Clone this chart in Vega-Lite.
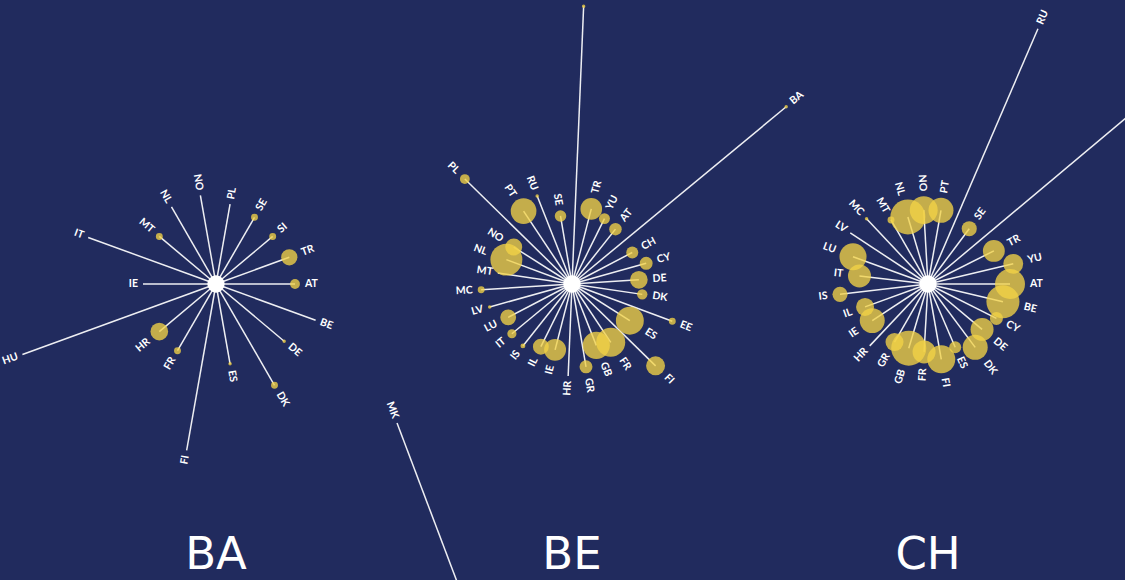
{
  "$schema": "https://vega.github.io/schema/vega-lite/v6.json",
  "background": "#212b5e",
  "padding": {"left": 1, "top": -10, "right": 0, "bottom": 0},
  "config": {"view": {"stroke": null}},
  "datasets": {
    "spokes": [
      {"panel": "BA", "country": "AT", "angle": 0, "len": 79, "pts": 8},
      {"panel": "BA", "country": "BE", "angle": 20, "len": 106, "pts": 0},
      {"panel": "BA", "country": "DE", "angle": 40, "len": 89, "pts": 1},
      {"panel": "BA", "country": "DK", "angle": 60, "len": 117, "pts": 4},
      {"panel": "BA", "country": "ES", "angle": 80, "len": 81, "pts": 1},
      {"panel": "BA", "country": "FI", "angle": 100, "len": 169, "pts": 0},
      {"panel": "BA", "country": "FR", "angle": 120, "len": 77, "pts": 4},
      {"panel": "BA", "country": "HR", "angle": 140, "len": 74, "pts": 26},
      {"panel": "BA", "country": "HU", "angle": 160, "len": 206, "pts": 0},
      {"panel": "BA", "country": "IE", "angle": 180, "len": 73, "pts": 0},
      {"panel": "BA", "country": "IT", "angle": 200, "len": 136, "pts": 0},
      {"panel": "BA", "country": "MT", "angle": 220, "len": 74, "pts": 4},
      {"panel": "BA", "country": "NL", "angle": 240, "len": 89, "pts": 0},
      {"panel": "BA", "country": "NO", "angle": 260, "len": 90, "pts": 0},
      {"panel": "BA", "country": "PL", "angle": 280, "len": 81, "pts": 0},
      {"panel": "BA", "country": "SE", "angle": 300, "len": 77, "pts": 4},
      {"panel": "BA", "country": "SI", "angle": 320, "len": 74, "pts": 4},
      {"panel": "BA", "country": "TR", "angle": 340, "len": 78, "pts": 22},
      {"panel": "BE", "country": "AT", "angle": -51.6, "len": 70, "pts": 13},
      {"panel": "BE", "country": "BA", "angle": -39.6, "len": 278, "pts": 1},
      {"panel": "BE", "country": "CH", "angle": -27.6, "len": 68, "pts": 12},
      {"panel": "BE", "country": "CY", "angle": -15.6, "len": 77, "pts": 14},
      {"panel": "BE", "country": "DE", "angle": -3.6, "len": 67, "pts": 26},
      {"panel": "BE", "country": "DK", "angle": 8.4, "len": 71, "pts": 9},
      {"panel": "BE", "country": "EE", "angle": 20.4, "len": 107, "pts": 4},
      {"panel": "BE", "country": "ES", "angle": 32.4, "len": 68.5, "pts": 65},
      {"panel": "BE", "country": "FI", "angle": 44.4, "len": 117, "pts": 30},
      {"panel": "BE", "country": "FR", "angle": 56.4, "len": 70, "pts": 70},
      {"panel": "BE", "country": "GB", "angle": 68.4, "len": 66, "pts": 61},
      {"panel": "BE", "country": "GR", "angle": 80.4, "len": 84, "pts": 14},
      {"panel": "BE", "country": "HR", "angle": 92.4, "len": 92, "pts": 0},
      {"panel": "BE", "country": "IE", "angle": 104.4, "len": 68, "pts": 40},
      {"panel": "BE", "country": "IL", "angle": 116.4, "len": 70, "pts": 21},
      {"panel": "BE", "country": "IS", "angle": 128.4, "len": 79, "pts": 2},
      {"panel": "BE", "country": "IT", "angle": 140.4, "len": 78, "pts": 7},
      {"panel": "BE", "country": "LU", "angle": 152.4, "len": 72, "pts": 21},
      {"panel": "BE", "country": "LV", "angle": 164.4, "len": 85.5, "pts": 1},
      {"panel": "BE", "country": "MC", "angle": 176.4, "len": 91, "pts": 4},
      {"panel": "BE", "country": "MT", "angle": 188.4, "len": 75, "pts": 0},
      {"panel": "BE", "country": "NL", "angle": 200.4, "len": 70, "pts": 85},
      {"panel": "BE", "country": "NO", "angle": 212.4, "len": 69, "pts": 24},
      {"panel": "BE", "country": "PL", "angle": 224.4, "len": 150, "pts": 8},
      {"panel": "BE", "country": "PT", "angle": 236.4, "len": 87.5, "pts": 55},
      {"panel": "BE", "country": "RU", "angle": 248.4, "len": 94.6, "pts": 1},
      {"panel": "BE", "country": "SE", "angle": 260.4, "len": 69, "pts": 11},
      {"panel": "BE", "country": "SI", "angle": 272.4, "len": 278, "pts": 1},
      {"panel": "BE", "country": "TR", "angle": 284.4, "len": 77.5, "pts": 39},
      {"panel": "BE", "country": "YU", "angle": 296.4, "len": 73, "pts": 10},
      {"panel": "CH", "country": "AT", "angle": 0, "len": 82, "pts": 75},
      {"panel": "CH", "country": "BE", "angle": 13.3, "len": 77, "pts": 91},
      {"panel": "CH", "country": "CY", "angle": 26.7, "len": 76.6, "pts": 14},
      {"panel": "CH", "country": "DE", "angle": 40, "len": 70.6, "pts": 44},
      {"panel": "CH", "country": "DK", "angle": 53.3, "len": 79, "pts": 52},
      {"panel": "CH", "country": "ES", "angle": 66.7, "len": 68.8, "pts": 12},
      {"panel": "CH", "country": "FI", "angle": 80, "len": 76.5, "pts": 65},
      {"panel": "CH", "country": "FR", "angle": 93.3, "len": 68, "pts": 44},
      {"panel": "CH", "country": "GB", "angle": 106.7, "len": 67, "pts": 102},
      {"panel": "CH", "country": "GR", "angle": 120, "len": 67, "pts": 27},
      {"panel": "CH", "country": "HR", "angle": 133.3, "len": 85, "pts": 0},
      {"panel": "CH", "country": "IE", "angle": 146.7, "len": 66.7, "pts": 52},
      {"panel": "CH", "country": "IL", "angle": 160, "len": 67, "pts": 27},
      {"panel": "CH", "country": "IS", "angle": 173.3, "len": 88.6, "pts": 19},
      {"panel": "CH", "country": "IT", "angle": 186.7, "len": 69, "pts": 44},
      {"panel": "CH", "country": "LU", "angle": 200, "len": 79.8, "pts": 61},
      {"panel": "CH", "country": "LV", "angle": 213.3, "len": 93, "pts": 0},
      {"panel": "CH", "country": "MC", "angle": 226.7, "len": 89.6, "pts": 1},
      {"panel": "CH", "country": "MT", "angle": 240, "len": 74, "pts": 4},
      {"panel": "CH", "country": "NL", "angle": 253.3, "len": 70, "pts": 102},
      {"panel": "CH", "country": "NO", "angle": 266.7, "len": 74, "pts": 65},
      {"panel": "CH", "country": "PT", "angle": 280, "len": 74.8, "pts": 52},
      {"panel": "CH", "country": "RU", "angle": 293.3, "len": 278, "pts": 0},
      {"panel": "CH", "country": "SE", "angle": 306.7, "len": 69, "pts": 19},
      {"panel": "CH", "country": "SI", "angle": 320, "len": 278, "pts": 0},
      {"panel": "CH", "country": "TR", "angle": 333.3, "len": 73.7, "pts": 40},
      {"panel": "CH", "country": "YU", "angle": 346.7, "len": 87.6, "pts": 33},
      {"panel": "DE", "country": "MK", "angle": 249.3, "len": 495, "pts": 0}
    ]
  },
  "spacing": 0,
  "bounds": "flush",
  "resolve": {"scale": {"x": "independent", "y": "independent"}},
  "vconcat": [
    {
      "data": {"name": "spokes"},
      "transform": [
        {"filter": "datum.panel != 'DE'"},
        {"calculate": "datum.angle * PI / 180", "as": "rad"},
        {"calculate": "datum.len * cos(datum.rad)", "as": "ex"},
        {"calculate": "-datum.len * sin(datum.rad)", "as": "ey"},
        {"calculate": "datum.len + sqrt(datum.pts * 12) / 2 + 5", "as": "ld"},
        {"calculate": "datum.ld * cos(datum.rad)", "as": "lx"},
        {"calculate": "-datum.ld * sin(datum.rad)", "as": "ly"},
        {"calculate": "cos(datum.rad) >= 0 ? 'r' : 'l'", "as": "side"},
        {"calculate": "cos(datum.rad) >= 0 ? datum.angle : datum.angle - 180", "as": "rot"}
      ],
      "facet": {
        "column": {
          "field": "panel",
          "type": "nominal",
          "title": null,
          "header": {
            "labelOrient": "bottom",
            "labelFontSize": 45,
            "labelFont": "DejaVu Sans",
            "labelColor": "#ffffff",
            "labelPadding": 12
          }
        }
      },
      "spacing": 0,
      "bounds": "flush",
      "spec": {
        "width": 356,
        "height": 520,
        "layer": [
          {
            "mark": {"type": "rule", "color": "#ffffff", "strokeWidth": 1.5, "opacity": 0.92},
            "encoding": {
              "x": {"field": "ex", "type": "quantitative", "scale": {"domain": [-178, 178], "nice": false, "zero": false}, "axis": null},
              "y": {"field": "ey", "type": "quantitative", "scale": {"domain": [-237, 283], "nice": false, "zero": false}, "axis": null},
              "x2": {"datum": 0},
              "y2": {"datum": 0}
            }
          },
          {
            "mark": {"type": "circle", "color": "#f2d246", "opacity": 0.78},
            "encoding": {
              "x": {"field": "ex", "type": "quantitative"},
              "y": {"field": "ey", "type": "quantitative"},
              "size": {"field": "pts", "type": "quantitative", "scale": {"type": "linear", "domain": [0, 100], "range": [0, 1200]}, "legend": null}
            }
          },
          {
            "transform": [{"aggregate": [{"op": "count", "as": "n"}], "groupby": ["panel"]}],
            "mark": {"type": "circle", "color": "#ffffff", "opacity": 1, "size": 300},
            "encoding": {
              "x": {"datum": 0, "type": "quantitative"},
              "y": {"datum": 0, "type": "quantitative"}
            }
          },
          {
            "transform": [{"filter": "datum.side == 'r'"}],
            "mark": {"type": "text", "align": "left", "baseline": "middle", "font": "Lato", "fontWeight": 700, "fontSize": 10.5, "color": "#ffffff"},
            "encoding": {
              "x": {"field": "lx", "type": "quantitative"},
              "y": {"field": "ly", "type": "quantitative"},
              "text": {"field": "country", "type": "nominal"},
              "angle": {"field": "rot", "type": "quantitative", "scale": null}
            }
          },
          {
            "transform": [{"filter": "datum.side == 'l'"}],
            "mark": {"type": "text", "align": "right", "baseline": "middle", "font": "Lato", "fontWeight": 700, "fontSize": 10.5, "color": "#ffffff"},
            "encoding": {
              "x": {"field": "lx", "type": "quantitative"},
              "y": {"field": "ly", "type": "quantitative"},
              "text": {"field": "country", "type": "nominal"},
              "angle": {"field": "rot", "type": "quantitative", "scale": null}
            }
          }
        ]
      }
    },
    {
      "data": {"name": "spokes"},
      "transform": [
        {"filter": "datum.panel == 'DE'"},
        {"calculate": "datum.angle * PI / 180", "as": "rad"},
        {"calculate": "datum.len * cos(datum.rad)", "as": "ex"},
        {"calculate": "-datum.len * sin(datum.rad)", "as": "ey"},
        {"calculate": "datum.len + sqrt(datum.pts * 12) / 2 + 5", "as": "ld"},
        {"calculate": "datum.ld * cos(datum.rad)", "as": "lx"},
        {"calculate": "-datum.ld * sin(datum.rad)", "as": "ly"},
        {"calculate": "cos(datum.rad) >= 0 ? datum.angle : datum.angle - 180", "as": "rot"}
      ],
      "width": 1068,
      "height": 1,
      "layer": [
        {
          "mark": {"type": "rule", "color": "#ffffff", "strokeWidth": 1.5, "opacity": 0.92},
          "encoding": {
            "x": {"field": "ex", "type": "quantitative", "scale": {"domain": [-534, 534], "nice": false, "zero": false}, "axis": null},
            "y": {"field": "ey", "type": "quantitative", "scale": {"domain": [884, 885], "nice": false, "zero": false}, "axis": null},
            "x2": {"datum": 0},
            "y2": {"datum": 0}
          }
        },
        {
          "mark": {"type": "text", "align": "right", "baseline": "middle", "font": "Lato", "fontWeight": 700, "fontSize": 10.5, "color": "#ffffff"},
          "encoding": {
            "x": {"field": "lx", "type": "quantitative"},
            "y": {"field": "ly", "type": "quantitative"},
            "text": {"field": "country", "type": "nominal"},
            "angle": {"field": "rot", "type": "quantitative", "scale": null}
          }
        }
      ]
    }
  ]
}
